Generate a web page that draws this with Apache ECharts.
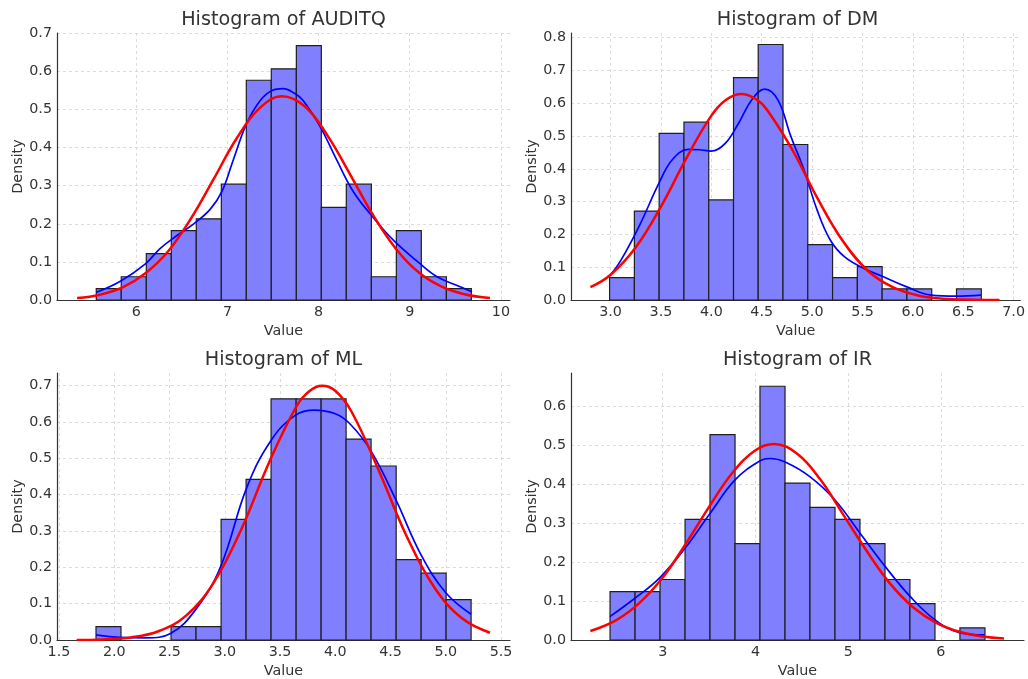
<!DOCTYPE html>
<html>
<head>
<meta charset="utf-8">
<title>Histograms</title>
<script src="https://cdn.jsdelivr.net/npm/echarts@6.0.0/dist/echarts.min.js"></script>
<style>
html, body { margin: 0; padding: 0; background: #fff; }
#main { width: 1028px; height: 679px; }
</style>
</head>
<body>
<div id="main"></div>
<script>
// bin edges and densities
var auditqEdges = [5.561, 5.835, 6.110, 6.384, 6.658, 6.933, 7.207, 7.481, 7.756, 8.030, 8.304, 8.579, 8.853, 9.127, 9.402, 9.676];
var auditqDensity = [0.030, 0.061, 0.122, 0.182, 0.213, 0.304, 0.577, 0.607, 0.668, 0.243, 0.304, 0.061, 0.182, 0.061, 0.030];
var auditqKde = [[5.56,0.02],[5.83,0.05],[6.1,0.095],[6.26,0.135],[6.45,0.17],[6.63,0.2],[6.81,0.238],[6.94,0.285],[7.06,0.365],[7.21,0.463],[7.36,0.524],[7.49,0.55],[7.61,0.555],[7.72,0.545],[7.83,0.524],[8.02,0.454],[8.2,0.367],[8.38,0.285],[8.57,0.225],[8.82,0.157],[9.11,0.096],[9.3,0.061],[9.5,0.04],[9.68,0.022]];
var auditqFit = [[5.35,0.005],[5.6,0.014],[5.85,0.033],[6.1,0.07],[6.35,0.128],[6.6,0.214],[6.85,0.318],[7.1,0.424],[7.35,0.503],[7.6,0.535],[7.85,0.508],[8.1,0.431],[8.35,0.328],[8.6,0.222],[8.85,0.134],[9.1,0.072],[9.35,0.035],[9.6,0.015],[9.88,0.005]];

var dmEdges = [2.990, 3.236, 3.482, 3.728, 3.974, 4.220, 4.465, 4.711, 4.957, 5.203, 5.449, 5.695, 5.941, 6.187, 6.433, 6.679];
var dmDensity = [0.068, 0.271, 0.508, 0.542, 0.305, 0.678, 0.779, 0.474, 0.169, 0.068, 0.102, 0.034, 0.034, 0, 0.034];
var dmKde = [[2.99,0.073],[3.1,0.12],[3.28,0.223],[3.48,0.356],[3.61,0.427],[3.77,0.459],[3.88,0.458],[4.0,0.454],[4.14,0.478],[4.27,0.539],[4.4,0.61],[4.53,0.643],[4.66,0.61],[4.79,0.498],[4.92,0.396],[5.05,0.274],[5.18,0.183],[5.32,0.132],[5.51,0.097],[5.69,0.073],[5.94,0.04],[6.18,0.015],[6.43,0.012],[6.675,0.015]];
var dmFit = [[2.8,0.039],[3.0,0.077],[3.25,0.161],[3.5,0.285],[3.75,0.431],[4.0,0.562],[4.15,0.611],[4.3,0.628],[4.45,0.611],[4.55,0.581],[4.8,0.46],[5.05,0.312],[5.3,0.182],[5.55,0.09],[5.8,0.039],[6.05,0.014],[6.3,0.004],[6.6,0.001],[6.86,0.0001]];

var mlEdges = [1.835, 2.061, 2.288, 2.514, 2.740, 2.967, 3.193, 3.419, 3.646, 3.872, 4.098, 4.324, 4.551, 4.777, 5.003, 5.229];
var mlDensity = [0.037, 0, 0, 0.037, 0.037, 0.332, 0.442, 0.664, 0.664, 0.664, 0.553, 0.479, 0.221, 0.184, 0.111];
var mlKde = [[1.835,0.014],[2.06,0.007],[2.29,0.006],[2.51,0.018],[2.74,0.085],[2.96,0.2],[3.2,0.42],[3.42,0.55],[3.64,0.619],[3.81,0.633],[4.0,0.623],[4.13,0.596],[4.32,0.522],[4.55,0.385],[4.77,0.238],[5.0,0.13],[5.229,0.071]];
var mlFit = [[1.66,0.0002],[1.9,0.0017],[2.15,0.007],[2.4,0.024],[2.65,0.067],[2.9,0.158],[3.15,0.305],[3.4,0.488],[3.65,0.644],[3.77,0.686],[3.88,0.7],[4.0,0.686],[4.15,0.627],[4.4,0.462],[4.65,0.283],[4.9,0.143],[5.15,0.059],[5.4,0.02]];

var irEdges = [2.432, 2.702, 2.971, 3.241, 3.510, 3.780, 4.049, 4.319, 4.588, 4.858, 5.127, 5.397, 5.666, 5.936, 6.205, 6.475];
var irDensity = [0.124, 0.124, 0.155, 0.309, 0.526, 0.247, 0.650, 0.402, 0.340, 0.309, 0.247, 0.155, 0.093, 0, 0.031];
var irKde = [[2.43,0.06],[2.7,0.107],[2.97,0.16],[3.24,0.235],[3.51,0.324],[3.78,0.41],[4.05,0.459],[4.16,0.465],[4.32,0.456],[4.59,0.418],[4.86,0.358],[5.13,0.273],[5.4,0.188],[5.67,0.111],[5.94,0.051],[6.2,0.019],[6.47,0.013]];
var irFit = [[2.22,0.023],[2.5,0.051],[2.75,0.095],[3.0,0.16],[3.25,0.247],[3.5,0.341],[3.75,0.428],[4.0,0.486],[4.2,0.502],[4.45,0.477],[4.7,0.411],[4.95,0.32],[5.2,0.228],[5.45,0.145],[5.7,0.084],[5.95,0.044],[6.2,0.021],[6.45,0.009],[6.68,0.004]];

var titles = ['Histogram of AUDITQ', 'Histogram of DM', 'Histogram of ML', 'Histogram of IR'];

var panels = [
    {edges: auditqEdges, dens: auditqDensity, kde: auditqKde, fit: auditqFit, left: 57, top: 33, xmin: 5.13, xmax: 10.10, xiv: 1, xdec: 0, ymax: 0.701},
    {edges: dmEdges, dens: dmDensity, kde: dmKde, fit: dmFit, left: 571, top: 33, xmin: 2.607, xmax: 7.066, xiv: 0.5, xdec: 1, ymax: 0.814},
    {edges: mlEdges, dens: mlDensity, kde: mlKde, fit: mlFit, left: 57, top: 373, xmin: 1.482, xmax: 5.581, xiv: 0.5, xdec: 1, ymax: 0.735},
    {edges: irEdges, dens: irDensity, kde: irKde, fit: irFit, left: 571, top: 373, xmin: 2.011, xmax: 6.896, xiv: 1, xdec: 0, ymax: 0.684}
];

var FONT = 'DejaVu Sans';
var TXT = '#333';
var FS = 14.3;

function tickFmt(iv, dec) {
    return function (v) {
        var k = v / iv;
        if (Math.abs(k - Math.round(k)) > 1e-6) return '';
        return v.toFixed(dec);
    };
}

function histItem(params, api) {
    var p0 = api.coord([api.value(0), api.value(2)]);
    var p1 = api.coord([api.value(1), 0]);
    return {
        type: 'rect',
        shape: {x: p0[0], y: p0[1], width: p1[0] - p0[0], height: p1[1] - p0[1]},
        style: {fill: '#8080ff', stroke: '#1f1f1f', lineWidth: 1.2}
    };
}

var grids = [], xAxes = [], yAxes = [], series = [], graphics = [];
var gridLine = {show: true, showMinLine: false, showMaxLine: false, lineStyle: {type: [3, 3], color: '#d4d4d4', width: 0.8}};

panels.forEach(function (p, i) {
    grids.push({left: p.left, top: p.top, width: 453, height: 267});
    xAxes.push({
        type: 'value', gridIndex: i, min: p.xmin, max: p.xmax,
        minInterval: p.xiv, maxInterval: p.xiv, splitNumber: 5,
        axisLine: {show: true, onZero: false, lineStyle: {color: '#333', width: 1.2}},
        axisTick: {show: false},
        axisLabel: {formatter: tickFmt(p.xiv, p.xdec), margin: 5, fontSize: FS, color: TXT, fontFamily: FONT, hideOverlap: false},
        splitLine: gridLine,
        name: 'Value', nameLocation: 'middle', nameGap: 24,
        nameTextStyle: {fontSize: FS, color: TXT, fontFamily: FONT}
    });
    yAxes.push({
        type: 'value', gridIndex: i, min: 0, max: p.ymax,
        minInterval: 0.1, maxInterval: 0.1, splitNumber: 7,
        axisLine: {show: true, onZero: false, lineStyle: {color: '#333', width: 1.2}},
        axisTick: {show: false},
        axisLabel: {formatter: tickFmt(0.1, 1), margin: 5, fontSize: FS, color: TXT, fontFamily: FONT, hideOverlap: false},
        splitLine: gridLine,
        name: 'Density', nameLocation: 'middle', nameGap: 32, nameRotate: 90,
        nameTextStyle: {fontSize: FS, color: TXT, fontFamily: FONT}
    });
    var bars = [];
    for (var b = 0; b < p.dens.length; b++) {
        if (p.dens[b] > 0) bars.push([p.edges[b], p.edges[b + 1], p.dens[b]]);
    }
    series.push({
        type: 'custom', xAxisIndex: i, yAxisIndex: i, renderItem: histItem,
        encode: {x: [0, 1], y: 2}, data: bars, silent: true
    });
    series.push({
        type: 'line', xAxisIndex: i, yAxisIndex: i, data: p.kde, smooth: 0.4,
        symbol: 'none', lineStyle: {color: '#0000ff', width: 1.7}, silent: true
    });
    series.push({
        type: 'line', xAxisIndex: i, yAxisIndex: i, data: p.fit, smooth: 0.4,
        symbol: 'none', lineStyle: {color: '#ff0000', width: 2.5}, silent: true
    });
    graphics.push({
        type: 'text', x: p.left + 226.5, y: p.top - 13,
        style: {text: titles[i], align: 'center', verticalAlign: 'middle', fontSize: 19.2, fontFamily: FONT, fill: TXT}
    });
});

var myChart = echarts.init(document.getElementById('main'));
myChart.setOption({
    animation: false,
    backgroundColor: '#fff',
    grid: grids,
    xAxis: xAxes,
    yAxis: yAxes,
    series: series,
    graphic: graphics
});
</script>
</body>
</html>
